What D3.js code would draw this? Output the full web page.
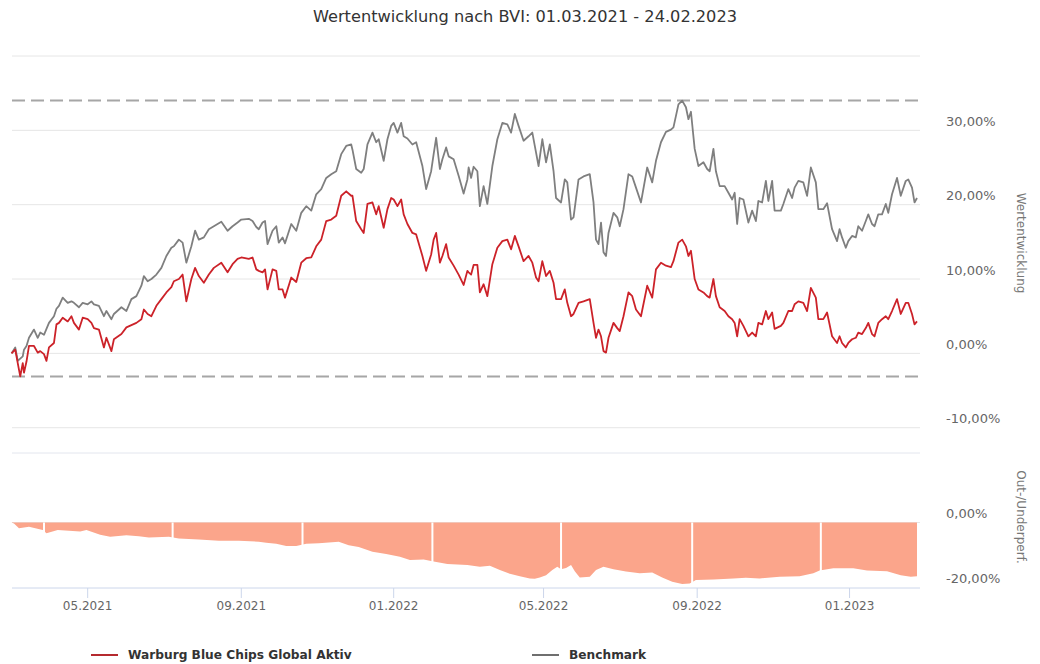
<!DOCTYPE html>
<html><head><meta charset="utf-8">
<script src="https://cdn.jsdelivr.net/npm/d3@7/dist/d3.min.js"></script>
<style>body{margin:0;background:#fff}svg{display:block}text{font-family:"DejaVu Sans",Verdana,sans-serif}</style>
</head><body><svg id="c" width="1040" height="664"></svg>
<script>
const titleText = "Wertentwicklung nach BVI: 01.03.2021 - 24.02.2023";
const seriesNames = ["Warburg Blue Chips Global Aktiv", "Benchmark"];
const dates = ["2021-03-01","2021-03-04","2021-03-06","2021-03-08","2021-03-10","2021-03-11","2021-03-13","2021-03-15","2021-03-19","2021-03-22","2021-03-24","2021-03-27","2021-03-29","2021-03-31","2021-04-04","2021-04-06","2021-04-08","2021-04-11","2021-04-15","2021-04-18","2021-04-20","2021-04-24","2021-04-27","2021-05-01","2021-05-04","2021-05-06","2021-05-10","2021-05-14","2021-05-16","2021-05-20","2021-05-22","2021-05-28","2021-06-01","2021-06-05","2021-06-09","2021-06-13","2021-06-15","2021-06-18","2021-06-21","2021-06-25","2021-06-29","2021-07-03","2021-07-07","2021-07-09","2021-07-13","2021-07-16","2021-07-19","2021-07-23","2021-07-26","2021-07-29","2021-08-02","2021-08-06","2021-08-10","2021-08-16","2021-08-21","2021-08-25","2021-08-29","2021-09-01","2021-09-07","2021-09-10","2021-09-13","2021-09-15","2021-09-18","2021-09-20","2021-09-22","2021-09-26","2021-09-29","2021-10-01","2021-10-04","2021-10-06","2021-10-11","2021-10-15","2021-10-19","2021-10-23","2021-10-27","2021-10-31","2021-11-04","2021-11-08","2021-11-12","2021-11-16","2021-11-20","2021-11-24","2021-11-28","2021-11-29","2021-12-02","2021-12-06","2021-12-08","2021-12-11","2021-12-15","2021-12-18","2021-12-20","2021-12-24","2021-12-27","2021-12-30","2022-01-01","2022-01-04","2022-01-07","2022-01-09","2022-01-12","2022-01-16","2022-01-19","2022-01-24","2022-01-27","2022-01-31","2022-02-02","2022-02-04","2022-02-07","2022-02-09","2022-02-12","2022-02-14","2022-02-18","2022-02-22","2022-02-26","2022-03-01","2022-03-02","2022-03-04","2022-03-06","2022-03-09","2022-03-11","2022-03-14","2022-03-17","2022-03-21","2022-03-25","2022-03-29","2022-04-02","2022-04-05","2022-04-08","2022-04-11","2022-04-15","2022-04-19","2022-04-22","2022-04-25","2022-04-27","2022-04-30","2022-05-03","2022-05-06","2022-05-09","2022-05-11","2022-05-15","2022-05-18","2022-05-20","2022-05-23","2022-05-25","2022-05-29","2022-06-02","2022-06-07","2022-06-10","2022-06-12","2022-06-14","2022-06-16","2022-06-18","2022-06-20","2022-06-22","2022-06-26","2022-06-29","2022-07-01","2022-07-04","2022-07-08","2022-07-11","2022-07-14","2022-07-18","2022-07-23","2022-07-27","2022-07-30","2022-08-03","2022-08-07","2022-08-11","2022-08-13","2022-08-17","2022-08-20","2022-08-23","2022-08-25","2022-08-27","2022-08-30","2022-09-02","2022-09-06","2022-09-09","2022-09-11","2022-09-14","2022-09-16","2022-09-19","2022-09-23","2022-09-26","2022-09-29","2022-10-01","2022-10-03","2022-10-05","2022-10-08","2022-10-12","2022-10-15","2022-10-18","2022-10-20","2022-10-23","2022-10-26","2022-10-28","2022-10-31","2022-11-02","2022-11-07","2022-11-09","2022-11-13","2022-11-16","2022-11-18","2022-11-21","2022-11-25","2022-11-28","2022-12-01","2022-12-05","2022-12-07","2022-12-11","2022-12-14","2022-12-18","2022-12-22","2022-12-24","2022-12-26","2022-12-29","2022-12-31","2023-01-03","2023-01-06","2023-01-08","2023-01-11","2023-01-14","2023-01-16","2023-01-19","2023-01-21","2023-01-24","2023-01-27","2023-01-30","2023-02-01","2023-02-04","2023-02-08","2023-02-11","2023-02-15","2023-02-17","2023-02-20","2023-02-22","2023-02-24"];
const fund = [0.0,0.5,-1.3,-3.1,-1.3,-2.6,-1.1,1.0,1.0,0.1,0.3,-0.1,-1.0,0.8,1.4,3.9,4.1,4.8,4.3,5.0,4.1,3.2,4.8,4.6,4.1,3.4,3.2,0.8,2.1,0.3,1.9,2.6,3.5,3.8,4.1,4.6,5.9,5.3,5.0,6.4,7.3,8.2,8.9,9.7,10.0,10.6,7.0,10.0,11.5,10.4,9.5,10.6,11.5,12.2,10.9,12.0,12.7,12.9,12.7,12.9,11.3,11.1,10.9,11.3,8.6,11.3,11.1,8.6,8.6,7.5,10.2,9.6,12.2,12.8,12.9,14.4,15.3,17.8,18.0,18.5,21.2,21.8,21.2,21.2,17.8,16.7,16.2,20.1,20.3,18.7,19.8,16.9,19.4,20.9,20.7,19.8,20.7,18.7,17.4,16.2,16.0,13.1,11.1,13.3,15.3,16.2,12.2,13.1,14.7,12.9,11.8,10.6,9.2,11.1,10.9,10.6,11.9,11.9,8.2,9.3,7.7,12.0,14.2,15.1,15.3,14.0,15.8,14.4,12.4,13.1,12.2,10.2,9.7,12.4,10.4,11.1,9.5,7.3,7.3,8.6,6.8,5.0,5.3,6.8,7.0,7.3,4.1,2.1,3.2,2.3,0.3,0.1,2.1,4.1,3.4,3.0,5.0,8.2,7.7,5.9,5.0,9.1,7.5,11.3,12.2,11.8,11.6,12.4,14.9,15.3,14.4,13.1,13.8,10.0,8.6,8.2,7.7,7.5,10.0,7.7,6.2,5.7,5.0,4.6,4.1,2.3,4.6,3.7,2.3,2.8,2.3,4.1,3.9,5.7,4.6,5.5,3.3,3.7,4.1,5.7,5.7,6.6,7.0,6.8,5.7,8.8,7.5,4.6,4.6,5.5,2.3,1.4,2.3,1.4,0.8,1.4,1.9,2.1,2.8,2.6,3.4,4.1,2.6,2.3,4.1,4.6,5.0,4.6,5.7,7.3,5.3,6.8,6.8,5.3,3.9,4.3];
const bench = [0.0,0.8,-1.0,-0.7,-0.4,0.5,1.0,2.1,3.2,2.1,2.8,2.5,3.3,4.1,5.0,6.0,6.4,7.5,6.8,7.0,6.8,6.2,6.8,6.6,7.0,6.6,6.4,5.0,5.7,4.6,5.3,6.2,5.7,7.3,7.7,9.1,10.4,9.7,10.0,10.6,11.5,13.1,14.2,14.4,15.3,14.9,12.2,14.4,16.5,15.3,15.6,16.7,17.1,17.7,16.5,17.1,17.6,18.0,18.1,17.8,17.0,16.7,17.6,17.8,14.7,16.5,17.1,14.9,15.6,14.8,17.4,16.5,18.9,19.8,19.2,21.4,22.1,23.6,24.1,24.5,26.8,27.9,28.1,27.4,24.8,24.3,24.8,28.1,29.7,28.4,28.8,25.9,28.8,30.6,31.0,29.7,31.0,29.2,28.9,28.1,28.4,25.2,22.1,24.5,26.8,29.0,24.8,26.1,27.7,26.5,26.1,23.9,21.5,23.4,25.0,23.6,25.1,24.5,19.8,22.5,20.1,25.2,28.8,31.0,30.8,29.7,32.2,30.6,28.6,29.2,29.7,27.0,25.2,28.8,25.7,28.1,24.5,20.9,20.3,23.4,23.0,18.0,18.3,23.4,23.8,24.1,20.3,15.3,14.7,17.6,13.6,13.1,16.2,18.9,18.3,17.1,19.4,24.1,23.8,22.3,20.3,25.0,23.0,25.9,28.4,29.8,30.1,30.4,33.5,34.0,33.1,31.5,32.5,27.5,25.2,25.7,24.8,24.5,27.5,24.5,22.5,22.5,21.6,20.7,21.6,17.4,20.9,20.7,17.6,19.2,17.8,20.5,20.3,23.2,20.5,23.2,19.2,19.2,20.1,22.1,20.9,22.3,23.2,23.0,21.2,25.0,23.0,19.4,19.4,20.2,16.7,15.1,16.7,15.6,14.2,15.1,15.8,15.6,17.1,16.5,17.8,18.7,17.4,17.1,18.7,18.7,20.1,18.9,21.4,23.6,21.2,23.2,23.4,22.3,20.3,20.9];
const diffDates = ["2021-03-01","2021-03-03","2021-03-07","2021-03-15","2021-03-26","2021-03-29","2021-04-07","2021-04-25","2021-04-30","2021-05-11","2021-05-19","2021-06-01","2021-06-11","2021-06-19","2021-07-05","2021-07-13","2021-07-29","2021-08-14","2021-08-30","2021-09-15","2021-09-21","2021-09-29","2021-10-07","2021-10-15","2021-10-23","2021-11-02","2021-11-18","2021-11-26","2021-12-04","2021-12-15","2021-12-26","2022-01-06","2022-01-14","2022-01-25","2022-02-02","2022-02-13","2022-03-01","2022-03-11","2022-03-19","2022-03-27","2022-04-04","2022-04-12","2022-04-20","2022-04-24","2022-04-28","2022-05-03","2022-05-08","2022-05-12","2022-05-15","2022-05-19","2022-05-23","2022-05-26","2022-05-30","2022-06-07","2022-06-12","2022-06-18","2022-06-26","2022-07-06","2022-07-17","2022-07-27","2022-08-04","2022-08-12","2022-08-20","2022-08-26","2022-08-31","2022-09-14","2022-09-30","2022-10-10","2022-10-21","2022-11-06","2022-11-22","2022-12-03","2022-12-08","2022-12-19","2023-01-04","2023-01-15","2023-01-31","2023-02-11","2023-02-19","2023-02-24"];
const diffValues = [0.0,-0.3,-1.8,-1.3,-2.3,-3.3,-2.3,-2.8,-2.3,-3.8,-4.4,-3.9,-4.2,-4.6,-4.4,-4.9,-5.2,-5.6,-5.6,-5.9,-6.2,-6.5,-7.2,-7.2,-6.5,-6.4,-5.9,-7.0,-7.5,-9.0,-9.7,-10.5,-11.5,-11.4,-12.0,-12.8,-13.1,-13.6,-13.3,-14.6,-15.8,-16.5,-17.2,-17.3,-16.9,-16.2,-14.6,-13.6,-14.4,-14.0,-13.1,-15.0,-16.9,-16.7,-14.6,-13.6,-14.4,-15.1,-15.6,-15.4,-16.9,-18.2,-18.9,-18.8,-17.7,-17.5,-17.2,-17.0,-17.2,-16.7,-16.5,-15.6,-14.8,-14.1,-14.1,-14.8,-15.0,-16.2,-16.7,-16.5];
const separatorDates = ["2021-03-27","2021-07-08","2021-10-20","2022-02-01","2022-05-15","2022-08-28","2022-12-09"];
const xTickDates = ["2021-05-01","2021-09-01","2022-01-01","2022-05-01","2022-09-01","2023-01-01"];
const mainTicks = [40, 30, 20, 10, 0, -10];
const mainLabelTicks = [30, 20, 10, 0, -10];
const diffTicks = [0, -20];

const parse = d3.timeParse("%Y-%m-%d");
const svg = d3.select("#c");
const deLocale = d3.formatLocale({decimal: ",", thousands: ".", grouping: [3], currency: ["", " €"], minus: "-"});
const pct = v => deLocale.format(".2f")(v) + "%";

const x = d3.scaleTime().domain([parse("2021-03-01"), parse("2023-02-24")]).range([11.5, 917]);
const yMain = d3.scaleLinear().domain([-13.4, 40]).range([453, 56]);
const yDiff = d3.scaleLinear().domain([-20, 0]).range([587.5, 522.5]);
const xL = 12, xR = 920;

// title
svg.append("text").attr("x", 525).attr("y", 22).attr("text-anchor", "middle")
  .attr("font-size", 16.2).attr("fill", "#333").text(titleText);

// main gridlines
svg.append("g").selectAll("line").data(mainTicks).join("line")
  .attr("x1", xL).attr("x2", xR).attr("y1", d => yMain(d)).attr("y2", d => yMain(d))
  .attr("stroke", "#e6e6e6").attr("stroke-width", 1);
svg.append("line").attr("x1", xL).attr("x2", xR).attr("y1", yMain(-13.4)).attr("y2", yMain(-13.4))
  .attr("stroke", "#e3e6ee").attr("stroke-width", 1);

// main labels
svg.append("g").selectAll("text").data(mainLabelTicks).join("text")
  .attr("x", 946).attr("y", d => yMain(d) - 9).attr("dy", "0.35em")
  .attr("font-size", 13).attr("fill", "#666").text(d => pct(d));

// max/min dashed lines
const allVals = fund.concat(bench);
const maxV = d3.max(allVals), minV = d3.min(allVals);
svg.append("g").selectAll("line").data([maxV, minV]).join("line")
  .attr("x1", xL).attr("x2", xR).attr("y1", d => yMain(d)).attr("y2", d => yMain(d))
  .attr("stroke", "#a6a6a6").attr("stroke-width", 2).attr("stroke-dasharray", "13,6");

// lines
const lineGen = vals => d3.line().x((d, i) => x(parse(dates[i]))).y(d => yMain(d))(vals);
svg.append("path").attr("d", lineGen(bench)).attr("fill", "none").attr("stroke", "#7f7f7f").attr("stroke-width", 1.8).attr("stroke-linejoin", "round");
svg.append("path").attr("d", lineGen(fund)).attr("fill", "none").attr("stroke", "#cc2229").attr("stroke-width", 1.8).attr("stroke-linejoin", "round");

// diff pane
svg.append("line").attr("x1", xL).attr("x2", xR).attr("y1", yDiff(0)).attr("y2", yDiff(0)).attr("stroke", "#e6e6e6");
const area = d3.area().x((d, i) => x(parse(diffDates[i]))).y0(yDiff(0)).y1(d => yDiff(d));
svg.append("path").attr("d", area(diffValues)).attr("fill", "#fba58b");
svg.append("g").selectAll("line").data(separatorDates).join("line")
  .attr("x1", d => x(parse(d))).attr("x2", d => x(parse(d)))
  .attr("y1", yDiff(0)).attr("y2", yDiff(-20))
  .attr("stroke", "#fff").attr("stroke-width", 2);
svg.append("g").selectAll("text").data(diffTicks).join("text")
  .attr("x", 946).attr("y", d => yDiff(d) - 9).attr("dy", "0.35em")
  .attr("font-size", 13).attr("fill", "#666").text(d => pct(d));

// x axis
svg.append("line").attr("x1", xL).attr("x2", xR).attr("y1", 588).attr("y2", 588).attr("stroke", "#ccd6eb");
const xt = svg.append("g").selectAll("g").data(xTickDates).join("g")
  .attr("transform", d => `translate(${x(parse(d))},0)`);
xt.append("line").attr("y1", 588).attr("y2", 598).attr("stroke", "#ccd6eb");
xt.append("text").attr("y", 606).attr("dy", "0.35em").attr("text-anchor", "middle")
  .attr("font-size", 12).attr("fill", "#666").text(d => d3.timeFormat("%m.%Y")(parse(d)));

// axis titles
svg.append("text").attr("transform", "translate(1017,243) rotate(90)").attr("text-anchor", "middle")
  .attr("font-size", 12).attr("fill", "#777").text("Wertentwicklung");
svg.append("text").attr("transform", "translate(1017,517) rotate(90)").attr("text-anchor", "middle")
  .attr("font-size", 12).attr("fill", "#777").text("Out-/Underperf.");

// legend
const legend = [{name: seriesNames[0], color: "#b52a2f", x: 91}, {name: seriesNames[1], color: "#6f6f6f", x: 532}];
const lg = svg.append("g").selectAll("g").data(legend).join("g");
lg.append("line").attr("x1", d => d.x).attr("x2", d => d.x + 27).attr("y1", 655).attr("y2", 655)
  .attr("stroke", d => d.color).attr("stroke-width", 2);
lg.append("text").attr("x", d => d.x + 37).attr("y", 655).attr("dy", "0.35em")
  .attr("font-size", 12.2).attr("font-weight", "bold").attr("fill", "#333").text(d => d.name);
</script></body></html>
